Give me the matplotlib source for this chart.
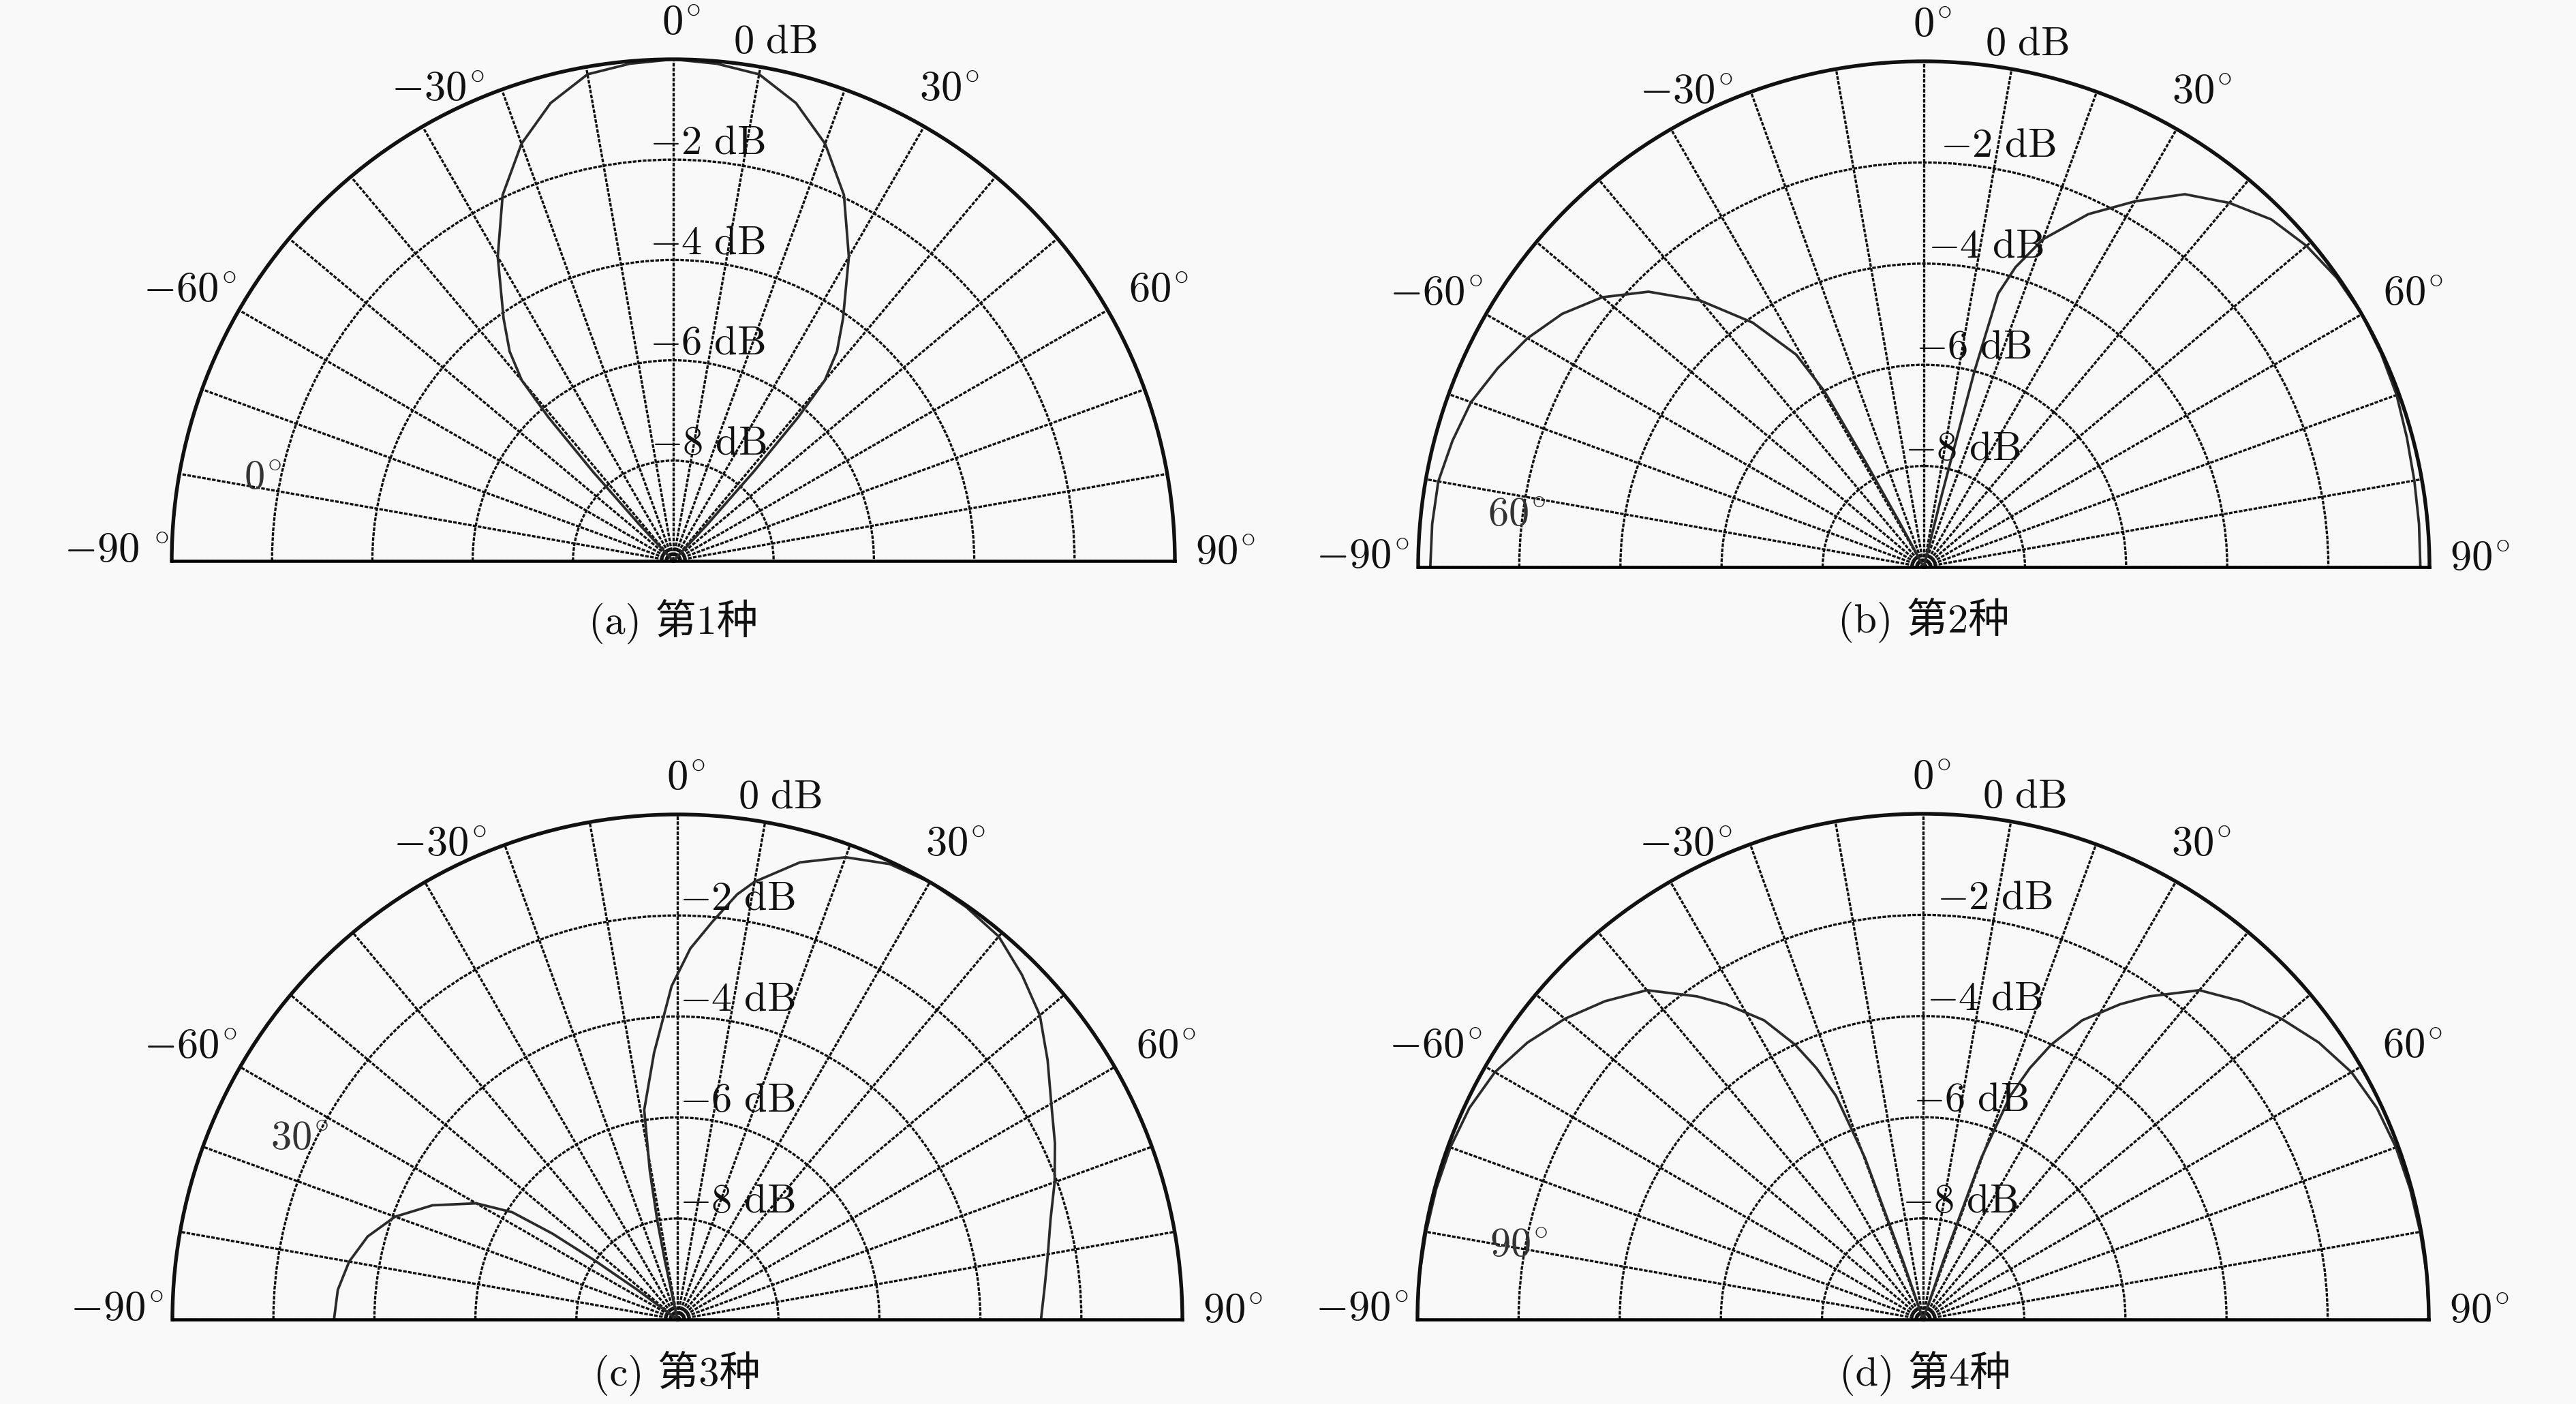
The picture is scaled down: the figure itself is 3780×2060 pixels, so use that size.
import numpy as np
import matplotlib.pyplot as plt
from matplotlib.transforms import offset_copy

plt.rcParams['mathtext.fontset'] = 'cm'

W, H, DPI = 3780, 2060, 300
BG = '#f9f9f9'

# beam patterns: angle (deg) and level (dB), chart floor is -10 dB
ang_a = [-90, -44, -43, -42, -41, -40, -38, -35, -30, -25, -20, -15, -10, -5, 0,
         5, 10, 15, 20, 25, 30, 35, 38, 40, 41, 42, 43, 44, 90]
db_a = [-10, -10, -9.0, -7.6, -6.2, -5.3, -4.7, -4.1, -3.0, -1.95, -1.15, -0.55, -0.15, -0.05, 0,
        -0.05, -0.15, -0.55, -1.15, -1.95, -3.0, -4.1, -4.7, -5.3, -6.2, -7.6, -9.0, -10, -10]

ang_b = [-90, -85, -80, -75, -70, -65, -60, -55, -50, -45, -40, -35, -31, -29.5, -29, -28.5, -28,
         13, 14, 14.5, 15.2, 17, 20, 25, 30, 35, 40, 45, 50, 55, 60, 65, 70, 75, 80, 85, 90]
db_b = [-0.24, -0.24, -0.25, -0.35, -0.47, -0.7, -0.95, -1.27, -1.7, -2.3, -3.12, -4.1, -5.1, -6.0, -7.6, -9.0, -10,
        -10, -8.5, -6.0, -4.4, -3.8, -3.1, -2.3, -1.65, -1.0, -0.6, -0.28, -0.12, -0.03, 0, -0.02, -0.05, -0.11,
        -0.15, -0.17, -0.18]

ang_c = [-90, -85, -80, -75, -70, -65, -60, -57, -55.5, -54.5, -53.5, -52.5,
         -13, -12, -11.5, -10.5, -9, -5, -1, 2, 5, 8, 10, 15, 20, 25, 30, 35, 40, 45, 50, 55, 60, 65, 70,
         75, 80, 85, 90]
db_c = [-3.2, -3.25, -3.4, -3.65, -4.05, -4.65, -5.4, -6.1, -7.0, -8.0, -9.0, -10,
        -10, -8.8, -8.0, -7.0, -5.8, -4.7, -3.4, -2.65, -2.1, -1.5, -1.2, -0.63, -0.26, -0.05, 0, -0.03, -0.1,
        -0.35, -0.63, -1.05, -1.45, -1.75, -2.05, -2.35, -2.55, -2.7, -2.8]

ang_d_half = [18, 19, 19.8, 21.3, 23, 25, 28, 32, 35, 40, 45, 50, 55, 60, 65, 70, 75, 80, 85, 90]
db_d_half = [-10, -8.8, -6.6, -5.25, -4.6, -4.0, -3.3, -2.65, -2.2, -1.5, -1.1, -0.75, -0.45, -0.22, -0.1,
             -0.05, -0.03, -0.02, 0, 0]
ang_d = [-a for a in ang_d_half[::-1]] + ang_d_half
db_d = db_d_half[::-1] + db_d_half

steer_labels = ['0', '60', '30', '90']
captions = ['(a) 第1种', '(b) 第2种', '(c) 第3种', '(d) 第4种']
db_ticks = [0, -2, -4, -6, -8]
theta_ticks = [-90, -60, -30, 0, 30, 60, 90]

# layout: centre (px), radius (px), x offsets of dB labels (px), steering label pos (x/R, y/R)
centres = [(988, 823), (2823, 832), (994, 1936), (2822, 1936)]
radii = [736, 742, 741, 742]
dblab_dx = [[88, -35, -35, -35, -33], [90, 24, 6, -12, -28], [89, 3, 3, 3, 3], [87, 20, 5, -15, -31]]
steer_pos = [(-0.819, 0.165), (-0.805, 0.103), (-0.748, 0.359), (-0.80, 0.146)]
cap_pos = [(988, 912), (2823, 910), (993, 2015), (2825, 2015)]
theta_lab_pos = {-90: (-1.11, 0.02), -60: (-0.965, 0.54), -30: (-0.47, 0.94), 0: (0.016, 1.072),
                 30: (0.55, 0.94), 60: (0.968, 0.54), 90: (1.1, 0.016)}

fig = plt.figure(figsize=(W / DPI, H / DPI), dpi=DPI, facecolor=BG)

panels = [(ang_a, db_a), (ang_b, db_b), (ang_c, db_c), (ang_d, db_d)]

for i, (ang, db) in enumerate(panels):
    cx, cy = centres[i]
    R = radii[i]
    # matplotlib pads the half-disc wedge to a square, so the box is 2R x 2R
    ax = fig.add_axes([(cx - R) / W, (H - cy - 0.5 * R) / H, 2 * R / W, 2 * R / H], projection='polar')
    ax.set_facecolor(BG)
    ax.set_theta_zero_location('N')
    ax.set_theta_direction(-1)
    ax.set_thetamin(-90)
    ax.set_thetamax(90)
    ax.set_ylim(0, 10)

    ax.set_thetagrids(np.arange(-90, 91, 10), labels=[''] * 19)
    ax.set_rgrids([2, 4, 6, 8], labels=[''] * 4)
    ax.grid(True, color='#111111', linestyle=(0, (1.6, 0.6)), linewidth=0.8)
    ax.tick_params(length=0, pad=0)
    ax.spines['polar'].set_linewidth(1.3)
    ax.spines['polar'].set_color('#111111')
    ax.spines['start'].set_linewidth(1.1)
    ax.spines['end'].set_linewidth(1.1)
    ax.spines['inner'].set_visible(False)

    r = np.clip(np.array(db) + 10, 0, 10)
    ax.plot(np.deg2rad(ang), r, color='#2b2b2b', linewidth=0.9, clip_on=False)

    # dB labels along the 0 deg spoke
    for k, v in enumerate(db_ticks):
        s = r'$%d\ \mathrm{dB}$' % v if v == 0 else r'$-%d\ \mathrm{dB}$' % (-v)
        tr = offset_copy(ax.transData, fig=fig, x=dblab_dx[i][k], y=9, units='dots')
        ax.text(0, v + 10, s, transform=tr, ha='left', va='baseline', fontsize=14.5, color='#111111')

    # angle labels
    for t in theta_ticks:
        dx, dy = theta_lab_pos[t]
        if t < 0:
            s = r'$-%d^{\!\circ}$' % (-t)
            if i == 0 and t == -90:
                s = r'$-90\ {}^{\circ}$'
        else:
            s = r'$%d^{\!\circ}$' % t
        ax.text(np.arctan2(dx, dy), 10 * np.hypot(dx, dy), s, ha='center', va='center',
                fontsize=15, color='#111111', clip_on=False)

    sx, sy = steer_pos[i]
    ax.text(np.arctan2(sx, sy), 10 * np.hypot(sx, sy), r'$%s^{\!\circ}$' % steer_labels[i],
            ha='center', va='center', fontsize=14.5, color='#333333', clip_on=False)

    px, py = cap_pos[i]
    fig.text(px / W, 1 - py / H, captions[i], ha='center', va='center', fontsize=14.5,
             family=['cmr10', 'Noto Sans CJK SC'], color='#111111')

fig.savefig('out.png', dpi=DPI, facecolor=BG)
